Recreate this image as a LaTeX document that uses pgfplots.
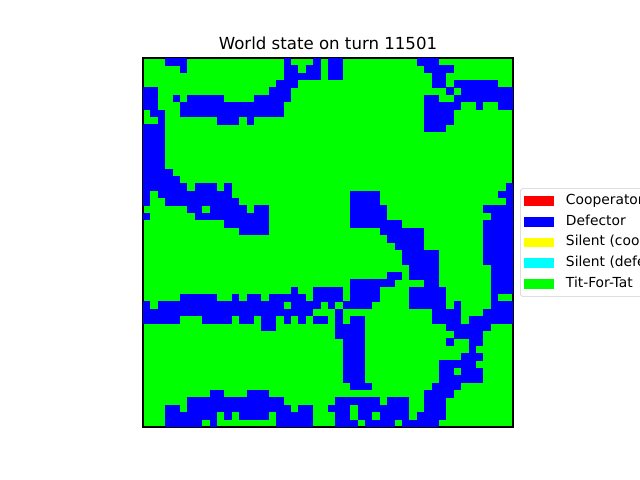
\documentclass[border=0pt]{standalone}
\usepackage{fontspec}
\setmainfont{DejaVu Sans}
\usepackage{pgfplots}
\usepackage{pgfplotstable}
\pgfplotsset{compat=1.18}
\definecolor{cred}{RGB}{255,0,0}
\definecolor{cblue}{RGB}{0,0,255}
\definecolor{cyellow}{RGB}{255,255,0}
\definecolor{ccyan}{RGB}{0,255,255}
\definecolor{cgreen}{RGB}{0,255,0}

% runs of Defector cells: row, first column, last column (rest is Tit-For-Tat)
\pgfplotstableread{
r a b
0 3 5
0 19 19
0 23 23
0 25 26
0 37 39
1 5 5
1 19 20
1 22 23
1 25 26
1 38 41
2 19 23
2 25 26
2 39 40
3 18 20
3 39 40
3 42 47
4 0 1
4 17 19
4 41 41
4 43 49
5 0 1
5 4 4
5 6 10
5 15 19
5 38 39
5 42 49
6 0 1
6 5 18
6 38 42
6 45 45
6 48 49
7 1 2
7 5 18
7 38 41
8 2 2
8 10 12
8 14 14
8 38 41
9 0 2
9 38 40
10 0 2
11 0 2
12 0 2
13 0 2
14 0 2
15 0 3
16 0 4
17 0 5
17 7 9
17 11 11
17 49 49
18 0 0
18 2 11
18 28 31
18 48 49
19 0 0
19 3 12
19 28 31
19 49 49
20 6 7
20 9 13
20 15 16
20 28 32
20 46 49
21 0 0
21 7 16
21 28 32
21 47 49
22 11 16
22 28 34
22 46 49
23 13 16
23 32 37
23 46 49
24 33 37
24 46 49
25 34 37
25 46 49
26 35 39
26 46 49
27 35 39
27 46 49
28 36 39
28 47 49
29 33 34
29 36 39
29 47 49
30 28 33
30 38 39
30 47 49
31 20 20
31 23 26
31 28 31
31 36 40
31 47 49
32 5 9
32 12 12
32 14 15
32 17 21
32 23 26
32 28 31
32 36 40
32 47 47
33 0 0
33 2 18
33 20 23
33 25 25
33 27 30
33 36 40
33 42 42
33 47 49
34 0 22
34 26 26
34 39 42
34 46 49
35 0 4
35 8 11
35 13 14
35 16 17
35 19 19
35 21 21
35 23 24
35 26 26
35 28 29
35 39 42
35 44 49
36 16 17
36 26 29
36 41 46
37 26 29
37 42 45
38 27 29
38 41 41
38 44 45
39 27 29
39 44 44
40 27 29
40 43 45
41 27 29
41 40 44
42 27 29
42 40 41
42 43 45
43 27 29
43 40 45
44 28 30
44 39 42
45 9 10
45 14 16
45 38 41
46 6 18
46 26 31
46 33 35
46 38 40
47 3 4
47 6 19
47 21 22
47 25 27
47 29 35
47 38 40
48 3 9
48 11 11
48 13 16
48 18 22
48 26 27
48 29 30
48 32 35
48 37 40
49 3 7
49 9 9
49 18 22
49 26 28
49 30 33
49 35 39
}\runs

\begin{document}
\begin{tikzpicture}
\path[use as bounding box, clip] (0,0) rectangle (6.4in,4.8in);
\begin{axis}[
  at={(1.43in,0.53in)}, anchor=south west,
  scale only axis, width=3.7in, height=3.69in,
  xmin=0, xmax=50, ymin=0, ymax=50, y dir=reverse,
  xtick=\empty, ytick=\empty,
  axis background/.style={fill=cgreen},
  axis line style={black, line width=0.8pt},
  title={World state on turn 11501},
  title style={at={(0.5,1)}, anchor=base, yshift=0.3pt, font=\fontsize{12}{14}\selectfont},
  legend style={at={(1.019,0.5)}, anchor=west, draw=black!20, rounded corners=2pt,
    font=\fontsize{10}{12}\selectfont, inner sep=3pt, row sep=3pt, column sep=8pt,
    nodes={inner sep=1pt, text height=7.5pt, text depth=2.5pt}},
  legend cell align=left,
  legend image code/.code={\path[#1, draw=none, sharp corners] (0pt,-3.6pt) rectangle (21pt,3.6pt);},
]
\addplot[only marks, mark=*, mark size=0pt, mark options={draw=none, fill=none},
  cblue, forget plot,
  error bars/.cd, x dir=plus, x explicit, error mark=none,
  error bar style={line width=5.5pt, cblue, solid, line cap=butt, sharp corners}]
  table[x=a, y expr=\thisrow{r}+0.5, x error expr=\thisrow{b}-\thisrow{a}+1] {\runs};
\addlegendimage{fill=cred}
\addlegendentry{Cooperator}
\addlegendimage{fill=cblue}
\addlegendentry{Defector}
\addlegendimage{fill=cyellow}
\addlegendentry{Silent (cooperator)}
\addlegendimage{fill=ccyan}
\addlegendentry{Silent (defector)}
\addlegendimage{fill=cgreen}
\addlegendentry{Tit-For-Tat}
\end{axis}
\end{tikzpicture}
\end{document}
